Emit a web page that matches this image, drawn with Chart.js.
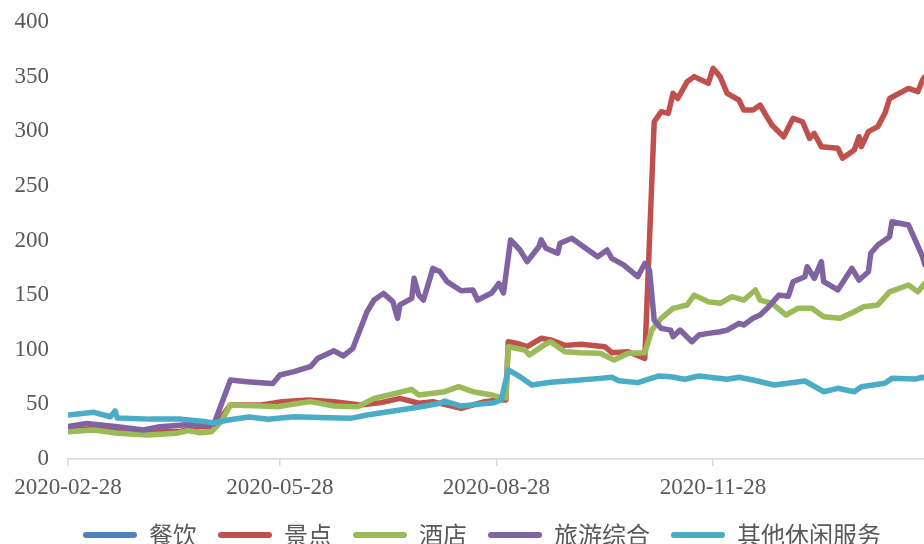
<!DOCTYPE html>
<html>
<head>
<meta charset="utf-8">
<script src="https://cdn.jsdelivr.net/npm/chart.js@4.4.0/dist/chart.umd.min.js"></script>
<style>
  html, body { margin: 0; padding: 0; background: #fff; overflow: hidden; }
  #wrap { width: 964px; height: 557px; }
</style>
</head>
<body>
<div id="wrap"><canvas id="myChart"></canvas></div>
<script>
// x values are days since 2020-02-28
var startDate = '2020-02-28';
var tickLabels = ['2020-02-28', '2020-05-28', '2020-08-28', '2020-11-28'];
var seriesNames = ['餐饮', '景点', '酒店', '旅游综合', '其他休闲服务'];
var seriesColors = ['#4F81BD', '#C0504D', '#9BBB59', '#8064A2', '#4BACC6'];

var cateringDays = [];
var cateringValues = [];

var scenicDays = [0, 14, 31, 48, 56, 62, 69, 82, 91, 102, 113, 124, 133, 141, 149, 155, 167, 177, 183, 186,
  187, 192, 195, 201, 205, 211, 218, 228, 231, 238, 245, 249, 252, 255, 257, 259, 263, 266, 272, 274,
  277, 280, 285, 287, 291, 294, 296, 299, 304, 308, 312, 315, 317, 320, 327, 329, 334, 336, 337, 340,
  344, 347, 349, 357, 361, 363, 364, 369];
var scenicValues = [27, 28, 25, 25.5, 29.6, 29.6, 49.4, 49.5, 52.5, 54, 52.5, 49.4, 51.6, 55.5, 51, 52.5, 46.4, 52.5, 54, 54,
  107.4, 105, 102.8, 110.5, 109, 104, 105, 102.8, 97.3, 98.2, 92, 308.7, 317.9, 316.4, 334.7, 330, 345.4, 350, 343.9, 357.6,
  350, 334.7, 328.6, 319.5, 319.5, 324, 316.4, 305.7, 295, 311.8, 308.7, 293.5, 298, 285.9, 284.4, 275.3, 282.8, 295, 285.9, 299.6,
  304.2, 316.4, 330, 339.2, 336.2, 346.9, 350, 352];

var hotelDays = [0, 11, 21, 34, 46, 51, 56, 61, 65, 69, 82, 89, 96, 103, 113, 123, 130, 138, 146, 149,
  160, 166, 172, 180, 184, 186, 187, 194, 196, 202, 205, 211, 218, 226, 232, 238, 245, 248, 252, 257,
  263, 266, 272, 277, 282, 287, 292, 294, 299, 305, 310, 316, 321, 328, 334, 338, 344, 349, 357, 361,
  364, 369];
var hotelValues = [25, 26.5, 23.5, 22, 23.5, 26, 24, 25, 34, 49.4, 48.5, 47.9, 50.3, 52.5, 48.5, 47.9, 55.5, 59.5, 63.8, 58.6,
  61.6, 66.2, 61.6, 58.6, 56, 56, 102.8, 99.8, 95.2, 104, 107.4, 98.2, 97.3, 96.7, 90.6, 96.7, 97.3, 118, 128.8, 137.9,
  141, 150, 144, 142.5, 148.6, 145.5, 154.7, 145.5, 142.5, 131.8, 137.9, 137.9, 130.3, 128.8, 134.8, 139.4, 141, 153, 159.3, 153,
  160.8, 158];

var tourismDays = [0, 8, 15, 21, 32, 39, 53, 59, 62, 69, 76, 85, 87, 90, 96, 99, 103, 106, 113, 117,
  121, 124, 127, 130, 134, 138, 140, 141, 146, 147, 149, 151, 155, 158, 161, 167, 172, 174, 180, 183,
  185, 188, 192, 195, 200, 201, 203, 208, 209, 214, 219, 225, 229, 231, 236, 242, 245, 247, 249, 252,
  256, 257, 260, 265, 268, 272, 277, 280, 285, 287, 291, 294, 297, 302, 306, 308, 313, 314, 317, 320,
  321, 327, 333, 336, 340, 341, 344, 349, 350, 357, 363, 364, 369];
var tourismValues = [29.6, 32.6, 31, 29.6, 26.5, 29.6, 31.7, 31, 32, 72.3, 70.8, 69.3, 69, 76.9, 80, 82, 84.5, 92, 99, 94.3,
  101.3, 118, 134.8, 145.5, 151.6, 144, 128.8, 141, 147, 165.4, 150, 145.5, 174.5, 171.4, 162.3, 154, 154.7, 145.5, 152, 160.8,
  152, 200.5, 191.3, 180.6, 194.3, 200.5, 192.9, 188.3, 197.4, 202, 194.3, 185.2, 191.3, 183.7, 177.6, 166.9, 179, 173, 127, 119.6,
  118, 112, 118, 107.4, 113.5, 115, 116.5, 118, 124.2, 122.7, 128.8, 131.8, 137.9, 150, 149, 162.3, 166.9, 176, 165.4, 180.6,
  162.3, 154.7, 174.5, 163.8, 171.4, 188.3, 195.9, 203.5, 217.2, 214.2, 185.2, 177.6, 170];

var leisureDays = [0, 11, 18, 20, 21, 35, 48, 59, 62, 68, 77, 85, 96, 107, 120, 127, 141, 150, 158, 160,
  167, 174, 181, 184, 187, 192, 197, 205, 212, 226, 231, 234, 242, 251, 256, 262, 268, 280, 285, 291,
  300, 313, 321, 327, 334, 337, 347, 350, 360, 363, 369];
var leisureValues = [40.3, 42.7, 38.7, 44, 37.5, 36.5, 36.5, 34, 33, 35.7, 38.5, 36.3, 38.7, 38, 37.2, 40.3, 44.8, 47.9, 51, 53,
  48.5, 50, 51.5, 54, 81.5, 75.3, 67.7, 70.2, 71.4, 73.8, 74.8, 71.7, 69.9, 76, 75.3, 73, 76, 73, 74.8, 72.3,
  67.7, 71.4, 61.6, 64.7, 61.6, 66.2, 69.3, 73.8, 73.2, 74.8, 72];

var seriesDays = [cateringDays, scenicDays, hotelDays, tourismDays, leisureDays];
var seriesValues = [cateringValues, scenicValues, hotelValues, tourismValues, leisureValues];

function dayOffset(s) {
  return Math.round((Date.parse(s) - Date.parse(startDate)) / 86400000);
}
var tickDays = tickLabels.map(dayOffset);

var datasets = seriesNames.map(function (name, i) {
  return {
    label: name,
    data: seriesDays[i].map(function (d, j) { return { x: d, y: seriesValues[i][j] }; }),
    borderColor: seriesColors[i],
    backgroundColor: seriesColors[i],
    borderWidth: 5.5,
    pointRadius: 0,
    tension: 0,
    borderJoinStyle: 'round',
    borderCapStyle: 'round',
    order: seriesNames.length - i
  };
});

var numFont = { family: '"Liberation Serif", "Times New Roman", serif', size: 23 };

var ctx = document.getElementById('myChart');
var myChart = new Chart(ctx, {
  type: 'line',
  data: { datasets: datasets },
  options: {
    responsive: true,
    maintainAspectRatio: false,
    animation: false,
    layout: { padding: { left: 0, right: 0, top: 22, bottom: 0 } },
    scales: {
      x: {
        type: 'linear',
        min: 0,
        max: 380.6,
        afterBuildTicks: function (scale) {
          scale.ticks = tickDays.map(function (v) { return { value: v }; });
        },
        afterFit: function (scale) { scale.height = 43; },
        ticks: {
          autoSkip: false,
          maxRotation: 0,
          padding: 8,
          color: '#595959',
          font: numFont,
          callback: function (v) { return tickLabels[tickDays.indexOf(v)]; }
        },
        grid: { drawOnChartArea: false, drawTicks: true, tickLength: 7, color: '#d9d9d9', lineWidth: 1.5 },
        border: { color: '#d9d9d9', width: 1.5 }
      },
      y: {
        min: 0,
        max: 400,
        afterFit: function (scale) {
          scale.width = 68;
          scale.paddingTop = 0;
          scale.paddingBottom = 0;
        },
        ticks: { stepSize: 50, padding: 19, color: '#595959', font: numFont },
        grid: { display: false, drawTicks: false },
        border: { display: false }
      }
    },
    plugins: {
      tooltip: { enabled: false },
      legend: {
        position: 'bottom',
        align: 'center',
        labels: {
          boxWidth: 54,
          boxHeight: 6,
          padding: 21,
          useBorderRadius: true,
          borderRadius: 3,
          color: '#595959',
          font: { family: '"Noto Sans CJK SC", sans-serif', size: 24 },
          sort: function (a, b) { return a.datasetIndex - b.datasetIndex; },
          generateLabels: function (chart) {
            return Chart.defaults.plugins.legend.labels.generateLabels(chart).map(function (l) {
              l.lineWidth = 0;
              return l;
            });
          }
        }
      }
    }
  }
});
</script>
</body>
</html>
